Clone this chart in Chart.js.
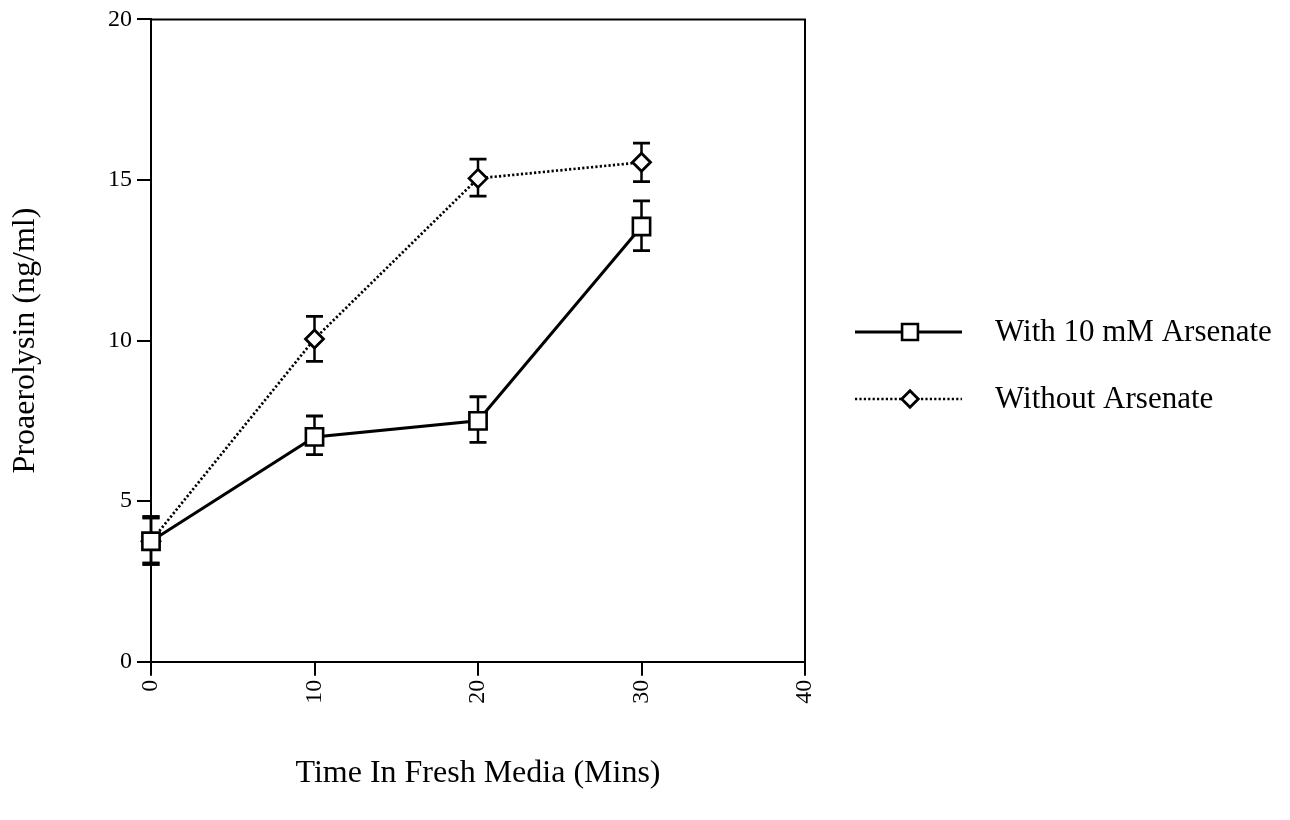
<!DOCTYPE html>
<html><head><meta charset="utf-8">
<script src="https://cdn.jsdelivr.net/npm/chart.js@4/dist/chart.umd.min.js"></script>
<style>html,body{margin:0;padding:0;background:#fff}#wrap{width:1290px;height:820px;position:relative}</style>
</head><body><div id="wrap"><canvas id="c" width="1290" height="820"></canvas></div>
<script>
const timeMins = [0, 10, 20, 30];
const withArsenate = [3.75, 7.0, 7.5, 13.55];
const withArsenateHigh = [4.5, 7.65, 8.25, 14.35];
const withArsenateLow = [3.05, 6.45, 6.83, 12.8];
const withoutArsenate = [3.75, 10.05, 15.05, 15.55];
const withoutArsenateHigh = [4.5, 10.75, 15.65, 16.15];
const withoutArsenateLow = [3.05, 9.35, 14.5, 14.95];
const xTicks = [0, 10, 20, 30, 40];
const yTicks = [0, 5, 10, 15, 20];
const seriesNames = ['With 10 mM Arsenate', 'Without Arsenate'];
const xTitle = 'Time In Fresh Media (Mins)';
const yTitle = 'Proaerolysin (ng/ml)';

const FONT = '"Liberation Serif", "Times New Roman", serif';

function pts(ys){ return timeMins.map((x,i)=>({x:x, y:ys[i]})); }

const errorBars = {
  id: 'errorBars',
  beforeDatasetsDraw(chart) {
    const ctx = chart.ctx, xs = chart.scales.x, ys = chart.scales.y;
    const sets = [[withArsenateHigh, withArsenateLow],[withoutArsenateHigh, withoutArsenateLow]];
    ctx.save();
    ctx.strokeStyle = '#000';
    sets.forEach(([hi, lo]) => {
      timeMins.forEach((t, i) => {
        const px = xs.getPixelForValue(t);
        const yh = ys.getPixelForValue(hi[i]);
        const yl = ys.getPixelForValue(lo[i]);
        ctx.lineWidth = 2.5;
        ctx.beginPath();
        ctx.moveTo(px, yh); ctx.lineTo(px, yl);
        ctx.stroke();
        ctx.lineWidth = t === 0 ? 4 : 2.8;
        ctx.beginPath();
        ctx.moveTo(px - 8.5, yh); ctx.lineTo(px + 8.5, yh);
        ctx.moveTo(px - 8.5, yl); ctx.lineTo(px + 8.5, yl);
        ctx.stroke();
      });
    });
    ctx.restore();
  }
};

const frame = {
  id: 'frame',
  beforeDatasetsDraw(chart) {
    const {ctx, chartArea: a} = chart;
    ctx.save();
    ctx.strokeStyle = '#000';
    ctx.lineWidth = 2;
    ctx.beginPath();
    ctx.moveTo(a.left, a.top); ctx.lineTo(a.right, a.top); ctx.lineTo(a.right, a.bottom);
    ctx.stroke();
    ctx.restore();
  }
};

const sideLegend = {
  id: 'sideLegend',
  afterDraw(chart) {
    const ctx = chart.ctx;
    const rows = [332, 399];
    chart.data.datasets.forEach((ds, i) => {
      const y = rows[i];
      ctx.save();
      ctx.strokeStyle = '#000';
      ctx.lineWidth = ds.borderWidth;
      ctx.setLineDash(ds.borderDash || []);
      ctx.beginPath();
      ctx.moveTo(855, y); ctx.lineTo(962, y);
      ctx.stroke();
      ctx.setLineDash([]);
      ctx.fillStyle = '#fff';
      ctx.strokeStyle = '#000';
      ctx.lineWidth = ds.pointBorderWidth;
      Chart.helpers.drawPoint(ctx, {pointStyle: ds.pointStyle, rotation: 0, radius: ds.pointRadius * 0.92, borderWidth: ds.pointBorderWidth}, 910, y);
      ctx.fillStyle = '#000';
      ctx.font = '31px ' + FONT;
      ctx.textBaseline = 'middle';
      ctx.textAlign = 'left';
      ctx.fillText(ds.label, 995, y + 1);
      ctx.restore();
    });
  }
};

new Chart(document.getElementById('c'), {
  type: 'line',
  data: {
    datasets: [
      {
        label: seriesNames[0],
        data: pts(withArsenate),
        borderColor: '#000', borderWidth: 3,
        pointStyle: 'rect', pointRadius: 12.2, pointBorderWidth: 2.6,
        pointBackgroundColor: '#fff', pointBorderColor: '#000',
        tension: 0, clip: false
      },
      {
        label: seriesNames[1],
        data: pts(withoutArsenate),
        borderColor: '#000', borderWidth: 2.7, borderDash: [2.2, 2.2],
        pointStyle: 'rectRot', pointRadius: 9, pointBorderWidth: 2.8,
        pointBackgroundColor: '#fff', pointBorderColor: '#000',
        tension: 0, clip: false
      }
    ]
  },
  options: {
    responsive: false,
    animation: false,
    layout: { padding: { top: 17, right: 485, left: 0, bottom: 0 } },
    plugins: { legend: { display: false }, tooltip: { enabled: false } },
    scales: {
      x: {
        type: 'linear', min: 0, max: 40,
        afterBuildTicks: s => { s.ticks = xTicks.map(v => ({value: v})); },
        afterFit: s => { s.height = 158.3; },
        ticks: { minRotation: 90, maxRotation: 90, color: '#000', padding: 4, font: { family: FONT, size: 24 } },
        grid: { drawOnChartArea: false, drawTicks: true, tickLength: 14, color: '#000', lineWidth: 2 },
        border: { color: '#000', width: 2 },
        title: { display: true, text: xTitle, color: '#000', font: { family: FONT, size: 32 }, padding: { top: 0, bottom: 27 } }
      },
      y: {
        type: 'linear', min: 0, max: 20,
        afterBuildTicks: s => { s.ticks = yTicks.map(v => ({value: v})); },
        afterFit: s => { s.width = 151; },
        ticks: { color: '#000', padding: 5, font: { family: FONT, size: 24 } },
        grid: { drawOnChartArea: false, drawTicks: true, tickLength: 14, color: '#000', lineWidth: 2 },
        border: { color: '#000', width: 2 },
        title: { display: true, text: yTitle, color: '#000', font: { family: FONT, size: 32 }, padding: { top: 6, bottom: 0 } }
      }
    }
  },
  plugins: [errorBars, frame, sideLegend]
});
</script>
</body></html>
